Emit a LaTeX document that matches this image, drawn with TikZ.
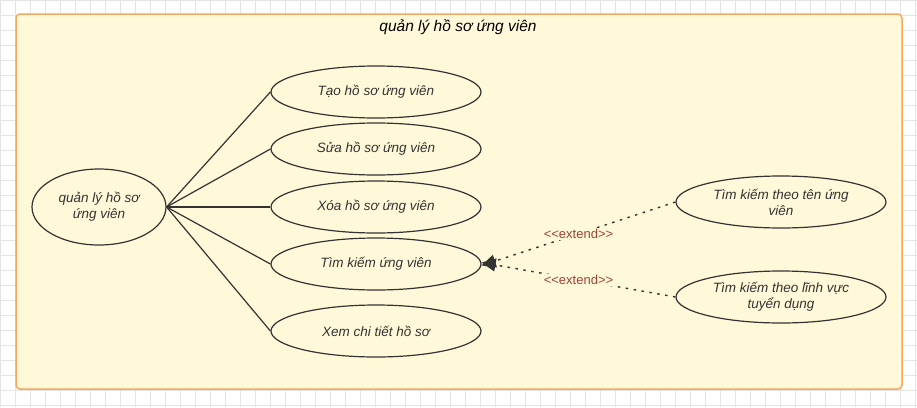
\documentclass[tikz,border=0pt]{standalone}
\usepackage{fontspec}
\setmainfont{Liberation Sans}
\usetikzlibrary{shapes.geometric, arrows.meta}

\definecolor{boxfill}{HTML}{FFF8D9}
\definecolor{boxline}{HTML}{F5A85E}
\definecolor{gridline}{HTML}{E4E4E4}
\definecolor{inkgray}{HTML}{333333}
\definecolor{extendred}{HTML}{9C4434}

\tikzset{
    usecase/.style={ellipse, draw=inkgray, line width=1.2pt, fill=boxfill, text=inkgray,
        minimum width=210, minimum height=52, inner sep=0pt, align=center,
        font=\fontsize{13.5}{16}\selectfont\itshape},
    extendline/.style={draw=inkgray, line width=1.4pt, dash pattern=on 2.5pt off 5.5pt,
        -{Triangle[length=14pt, width=13pt]}},
    extendlabel/.style={fill=boxfill, text=extendred, inner sep=1pt,
        font=\fontsize{13}{15}\selectfont}
}

\begin{document}
\begin{tikzpicture}[x=1pt, y=-1pt]
    \useasboundingbox (0, 0) rectangle (917, 407);

    % Background grid
    \fill[white] (0, 0) rectangle (917, 407);
    \foreach \gx in {0, 15, ..., 915} {
        \draw[gridline, line width=0.8pt] (\gx, 0) -- (\gx, 407);
    }
    \foreach \gy in {0, 15, ..., 405} {
        \draw[gridline, line width=0.8pt] (0, \gy) -- (917, \gy);
    }

    % The system frame
    \draw[boxline, line width=1.5pt, fill=boxfill, rounded corners=4pt] (16, 14) rectangle (902, 389);
    \node[font=\fontsize{15.5}{18}\selectfont\itshape] (title) at (458, 27) {quản lý hồ sơ ứng viên};

    % Main use case
    \node[usecase, minimum width=134, minimum height=76] (main) at (99, 207) {quản lý hồ sơ\\ứng viên};

    % Sub use cases
    \foreach \y/\n/\t in {92/tao/Tạo hồ sơ ứng viên, 149/sua/Sửa hồ sơ ứng viên,
                          207/xoa/Xóa hồ sơ ứng viên, 264/tim/Tìm kiếm ứng viên,
                          331/xem/Xem chi tiết hồ sơ} {
        \node[usecase] (\n) at (376, \y) {\t};
        \draw[inkgray, line width=1.2pt] (main.east) -- (\n.west);
    }

    % Extensions of the search
    \node[usecase] (ten) at (781, 202) {Tìm kiếm theo tên ứng\\viên};
    \node[usecase] (linhvuc) at (781, 297) {Tìm kiếm theo lĩnh vực\\tuyển dụng};

    \draw[extendline] (ten.west) -- node[extendlabel] {<{}<extend>{}>} ([yshift=-1.5]tim.east);
    \draw[extendline] (linhvuc.west) -- node[extendlabel] {<{}<extend>{}>} ([yshift=1.5]tim.east);
\end{tikzpicture}
\end{document}
